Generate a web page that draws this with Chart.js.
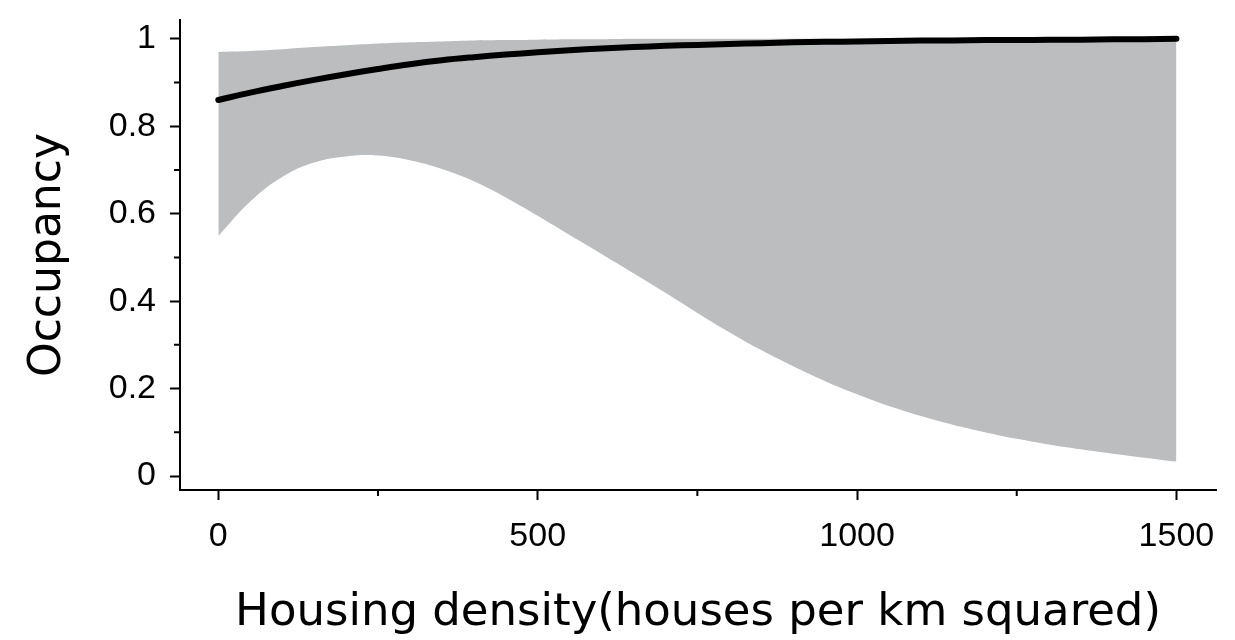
<!DOCTYPE html>
<html>
<head>
<meta charset="utf-8">
<title>Occupancy vs housing density</title>
<script src="https://cdn.jsdelivr.net/npm/chart.js@4"></script>
<style>
  body { margin: 0; background: #fff; }
  #wrap { width: 1235px; height: 640px; }
</style>
</head>
<body>
<div id="wrap"><canvas id="occChart" width="1235" height="640"></canvas></div>
<script>
// Values
const housingDensity = [0, 50, 100, 150, 200, 250, 300, 350, 400, 450, 500, 550, 600, 650, 700, 750, 800, 850, 900, 950, 1000, 1050, 1100, 1150, 1200, 1250, 1300, 1350, 1400, 1450, 1500];
const occupancyMean  = [0.860, 0.877, 0.892, 0.906, 0.919, 0.931, 0.942, 0.951, 0.958, 0.964, 0.969, 0.974, 0.978, 0.981, 0.984, 0.986, 0.988, 0.990, 0.992, 0.993, 0.994, 0.995, 0.996, 0.996, 0.997, 0.997, 0.998, 0.998, 0.999, 0.999, 1.000];
const occupancyUpper = [0.970, 0.972, 0.976, 0.981, 0.985, 0.989, 0.992, 0.994, 0.996, 0.997, 0.998, 0.999, 0.999, 1.000, 1.000, 1.000, 1.000, 1.000, 1.000, 1.000, 1.000, 1.000, 1.000, 1.000, 1.000, 1.000, 1.000, 1.000, 1.000, 1.000, 1.000];
const occupancyLower = [0.549, 0.628, 0.684, 0.717, 0.731, 0.733, 0.722, 0.702, 0.674, 0.637, 0.595, 0.551, 0.508, 0.464, 0.419, 0.373, 0.329, 0.288, 0.251, 0.217, 0.187, 0.160, 0.137, 0.117, 0.100, 0.085, 0.072, 0.061, 0.051, 0.042, 0.033];

const xTicks = [0, 500, 1000, 1500];
const xTickLabels = ['0', '500', '1000', '1500'];
const xMinorTicks = [250, 750, 1250];
const yTicks = [0, 0.2, 0.4, 0.6, 0.8, 1];
const yTickLabels = ['0', '0.2', '0.4', '0.6', '0.8', '1'];
const yMinorTicks = [0.1, 0.3, 0.5, 0.7, 0.9];

function toPoints(ys) {
    return housingDensity.map((x, i) => ({ x: x, y: ys[i] }));
}

// short minor tick marks on both axes
const minorTicks = {
    id: 'minorTicks',
    afterDraw(chart) {
        const ctx = chart.ctx;
        const xs = chart.scales.x;
        const ys = chart.scales.y;
        ctx.save();
        ctx.strokeStyle = '#000';
        ctx.lineWidth = 2;
        ctx.beginPath();
        xMinorTicks.forEach(v => {
            const px = xs.getPixelForValue(v);
            ctx.moveTo(px, xs.top);
            ctx.lineTo(px, xs.top + 6);
        });
        yMinorTicks.forEach(v => {
            const py = ys.getPixelForValue(v);
            ctx.moveTo(ys.right, py);
            ctx.lineTo(ys.right - 6, py);
        });
        ctx.stroke();
        ctx.restore();
    }
};

const tickFont = { family: '"Liberation Sans", Arial, sans-serif', size: 34 };
const titleFont = { family: '"DejaVu Sans", sans-serif', size: 45 };

const ctx = document.getElementById('occChart').getContext('2d');
const occChart = new Chart(ctx, {
    type: 'line',
    data: {
        datasets: [
            {
                label: 'Upper',
                data: toPoints(occupancyUpper),
                borderWidth: 0,
                pointRadius: 0,
                backgroundColor: 'rgb(187, 189, 190)',
                fill: '+1',
                tension: 0.4,
                order: 3
            },
            {
                label: 'Lower',
                data: toPoints(occupancyLower),
                borderWidth: 0,
                pointRadius: 0,
                fill: false,
                tension: 0.4,
                order: 2
            },
            {
                label: 'Occupancy',
                data: toPoints(occupancyMean),
                borderColor: '#000',
                borderWidth: 6,
                borderCapStyle: 'round',
                pointRadius: 0,
                fill: false,
                tension: 0.4,
                order: 1
            }
        ]
    },
    options: {
        responsive: false,
        animation: false,
        layout: { padding: { top: 20, right: 19, left: 0, bottom: 0 } },
        plugins: {
            legend: { display: false },
            tooltip: { enabled: false }
        },
        scales: {
            x: {
                type: 'linear',
                min: -60,
                max: 1562,
                afterBuildTicks: s => { s.ticks = xTicks.map(v => ({ value: v })); },
                afterFit: s => { s.height = 150; s.paddingLeft = 0; s.paddingRight = 0; },
                grid: { drawOnChartArea: false, tickLength: 10, tickWidth: 2, tickColor: '#000' },
                border: { display: true, color: '#000', width: 2 },
                ticks: {
                    color: '#000',
                    padding: 16,
                    maxRotation: 0,
                    font: tickFont,
                    callback: (value, index) => xTickLabels[index]
                },
                title: {
                    display: true,
                    text: 'Housing density(houses per km squared)',
                    color: '#000',
                    font: titleFont,
                    padding: { top: 0, bottom: 0 }
                }
            },
            y: {
                type: 'linear',
                min: -0.032,
                max: 1.043,
                afterBuildTicks: s => { s.ticks = yTicks.map(v => ({ value: v })); },
                afterFit: s => { s.width = 180; s.paddingTop = 0; s.paddingBottom = 0; },
                grid: { drawOnChartArea: false, tickLength: 10, tickWidth: 2, tickColor: '#000' },
                border: { display: true, color: '#000', width: 2 },
                ticks: {
                    color: '#000',
                    padding: 14,
                    font: tickFont,
                    callback: (value, index) => yTickLabels[index]
                },
                title: {
                    display: true,
                    text: 'Occupancy',
                    color: '#000',
                    font: { family: '"DejaVu Sans", sans-serif', size: 44 },
                    padding: { top: 22, bottom: 0 }
                }
            }
        }
    },
    plugins: [minorTicks]
});
</script>
</body>
</html>
